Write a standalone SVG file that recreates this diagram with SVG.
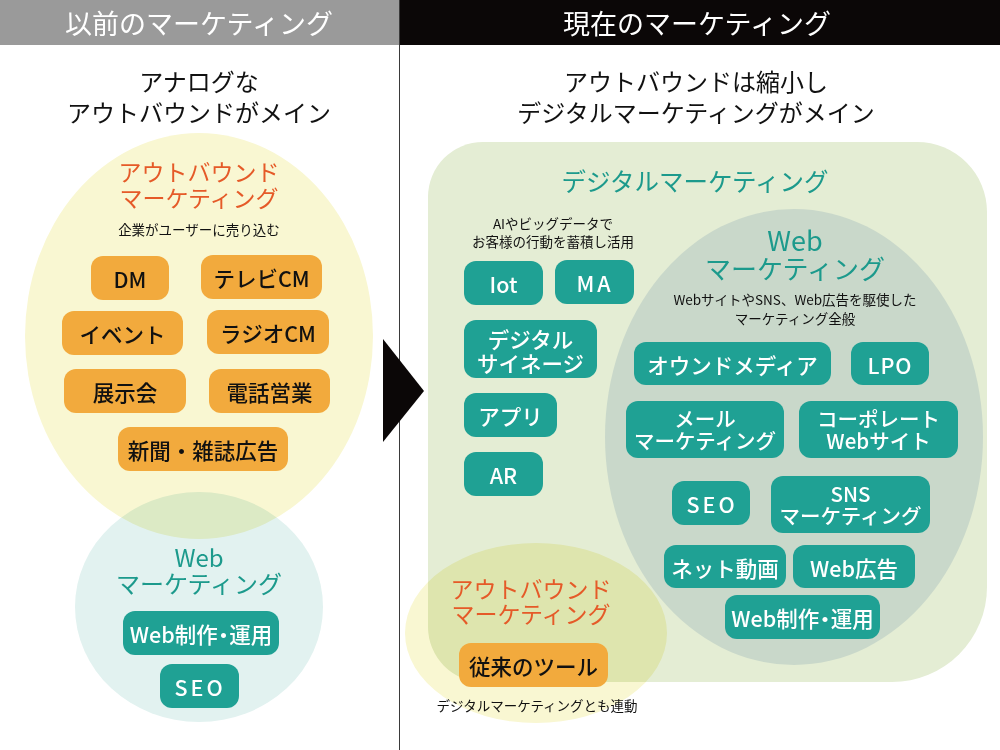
<svg xmlns="http://www.w3.org/2000/svg" width="1000" height="750" viewBox="0 0 1000 750">
<style>
text{font-family:"Noto Sans CJK JP","Noto Sans",sans-serif;text-anchor:middle;dominant-baseline:central}
.hd{font-size:27px;fill:#fff}
.sub{font-size:24px;fill:#111}
.org{font-size:23px;fill:#e55a28}
.teal{fill:#1c9a8c}
.sm{font-size:13.5px;fill:#111}
.ob{fill:#f2aa3d}
.tb{fill:#1fa194}
.ot{font-size:21.5px;fill:#111;font-weight:500}
.wt{font-size:21.5px;fill:#fff;font-weight:500}
.wt2{font-size:20.5px;fill:#fff;font-weight:500}
.mul{mix-blend-mode:multiply}
</style>
<rect width="1000" height="750" fill="#fff"/>
<g id="header-left"><rect x="0" y="0" width="399.5" height="45" fill="#9a9a9a"/><text class="hd" x="199" y="22">以前のマーケティング</text></g>
<g id="header-right"><rect x="399.5" y="0" width="600.5" height="45" fill="#0b0707"/><text class="hd" x="697" y="22">現在のマーケティング</text></g>
<g id="connectors">
<line x1="399.5" y1="0" x2="399.5" y2="750" stroke="#3a3a3a" stroke-width="1"/>
<polygon points="383,339 424,391 383,442" fill="#0b0707"/>
</g>
<g id="left-subtitle"><text class="sub" x="199" y="80">アナログな</text><text class="sub" x="199" y="111">アウトバウンドがメイン</text></g>
<g id="left-web-circle"><ellipse cx="199" cy="607" rx="124" ry="115" fill="#e2f2f0"/></g>
<g id="left-outbound-ellipse"><ellipse class="mul" cx="199" cy="336" rx="174" ry="203" fill="#f9f7d2"/>
<text class="org" x="199" y="171">アウトバウンド</text><text class="org" x="199" y="197">マーケティング</text>
<text class="sm" x="199" y="229">企業がユーザーに売り込む</text></g>
<g id="n-dm"><rect class="ob" x="91" y="256" width="78" height="44" rx="12"/><text class="ot" x="130" y="278">DM</text></g>
<g id="n-tvcm"><rect class="ob" x="201" y="255" width="121" height="44" rx="12"/><text class="ot" x="261.5" y="277">テレビCM</text></g>
<g id="n-event"><rect class="ob" x="62" y="311" width="121" height="44" rx="12"/><text class="ot" x="122.5" y="333">イベント</text></g>
<g id="n-radiocm"><rect class="ob" x="207" y="310" width="122" height="44" rx="12"/><text class="ot" x="268" y="332">ラジオCM</text></g>
<g id="n-expo"><rect class="ob" x="64" y="369" width="122" height="44" rx="12"/><text class="ot" x="125" y="391">展示会</text></g>
<g id="n-tel"><rect class="ob" x="209" y="369" width="121" height="44" rx="12"/><text class="ot" x="269.5" y="391">電話営業</text></g>
<g id="n-news"><rect class="ob" x="118" y="427" width="170" height="44" rx="12"/><text class="ot" x="203" y="449">新聞・雑誌広告</text></g>
<g id="left-web-title"><text class="teal" font-size="24" x="199" y="556">Web</text><text class="teal" font-size="24" x="199" y="582">マーケティング</text></g>
<g id="n-left-webprod"><rect class="tb" x="123" y="611" width="156" height="44" rx="12"/><text class="wt" x="201" y="633">Web制作<tspan dx="-5">・</tspan><tspan dx="-5">運用</tspan></text></g>
<g id="n-left-seo"><rect class="tb" x="160" y="664" width="79" height="44" rx="12"/><text class="wt" x="200" y="686" letter-spacing="3">SEO</text></g>
<g id="right-subtitle"><text class="sub" x="696" y="80">アウトバウンドは縮小し</text><text class="sub" x="696" y="111">デジタルマーケティングがメイン</text></g>
<g id="digital-area">
<path d="M483,142 H917 A70,70 0 0 1 987,212 V587 A95,95 0 0 1 892,682 H483 A55,55 0 0 1 428,627 V197 A55,55 0 0 1 483,142 Z" fill="#e4edd4"/>
<text class="teal" font-size="24.5" x="695" y="180">デジタルマーケティング</text>
<text class="sm" font-size="14.3" x="553" y="223">AIやビッグデータで</text>
<text class="sm" font-size="14.3" x="553" y="241">お客様の行動を蓄積し活用</text>
</g>
<g id="n-iot"><rect class="tb" x="464" y="261" width="79" height="44" rx="12"/><text class="wt" x="503.5" y="283">Iot</text></g>
<g id="n-ma"><rect class="tb" x="555" y="260" width="79" height="44" rx="12"/><text class="wt" x="595" y="282" letter-spacing="3">MA</text></g>
<g id="n-signage"><rect class="tb" x="464" y="320" width="133" height="58" rx="12"/><text class="wt" x="530.5" y="338">デジタル</text><text class="wt" x="530.5" y="362">サイネージ</text></g>
<g id="n-app"><rect class="tb" x="464" y="393" width="93" height="44" rx="12"/><text class="wt" x="510.5" y="415">アプリ</text></g>
<g id="n-ar"><rect class="tb" x="464" y="452" width="79" height="44" rx="12"/><text class="wt" x="503.5" y="474">AR</text></g>
<g id="web-area">
<ellipse cx="794" cy="437" rx="189" ry="228" fill="#c9d8ca"/>
<text class="teal" font-size="27" x="795" y="239">Web</text>
<text class="teal" font-size="26" x="795" y="267">マーケティング</text>
<text class="sm" font-size="14" x="795" y="299">WebサイトやSNS、Web広告を駆使した</text>
<text class="sm" font-size="14" x="795" y="318">マーケティング全般</text>
</g>
<g id="n-owned"><rect class="tb" x="634" y="342" width="197" height="43" rx="12"/><text class="wt" x="732.5" y="364">オウンドメディア</text></g>
<g id="n-lpo"><rect class="tb" x="851" y="342" width="78" height="43" rx="12"/><text class="wt" x="890" y="364" letter-spacing="1">LPO</text></g>
<g id="n-mail"><rect class="tb" x="626" y="401" width="158" height="57" rx="12"/><text class="wt2" x="705" y="418">メール</text><text class="wt2" x="705" y="440">マーケティング</text></g>
<g id="n-corp"><rect class="tb" x="799" y="401" width="159" height="57" rx="12"/><text class="wt2" x="878.5" y="418">コーポレート</text><text class="wt2" x="878.5" y="440">Webサイト</text></g>
<g id="n-seo"><rect class="tb" x="672" y="481" width="78" height="44" rx="12"/><text class="wt" x="712" y="503" letter-spacing="3">SEO</text></g>
<g id="n-sns"><rect class="tb" x="771" y="476" width="159" height="57" rx="12"/><text class="wt2" x="850.5" y="493">SNS</text><text class="wt2" x="850.5" y="515">マーケティング</text></g>
<g id="n-video"><rect class="tb" x="664" y="545" width="122" height="43" rx="12"/><text class="wt" x="725" y="567">ネット動画</text></g>
<g id="n-webad"><rect class="tb" x="793" y="545" width="122" height="43" rx="12"/><text class="wt" x="854" y="567">Web広告</text></g>
<g id="n-webprod"><rect class="tb" x="725" y="595" width="155" height="44" rx="12"/><text class="wt" x="802.5" y="617">Web制作<tspan dx="-5">・</tspan><tspan dx="-5">運用</tspan></text></g>
<g id="right-outbound-ellipse">
<ellipse class="mul" cx="536" cy="633" rx="131" ry="90" fill="#f9f7d2"/>
<text class="org" font-size="23.4" x="531" y="588">アウトバウンド</text>
<text class="org" font-size="23.4" x="531" y="613">マーケティング</text>
</g>
<g id="n-tools"><rect class="ob" x="459" y="643" width="149" height="44" rx="12"/><text class="ot" x="533.5" y="665">従来のツール</text></g>
<g id="right-note"><text class="sm" font-size="13.7" x="537" y="705">デジタルマーケティングとも連動</text></g>
</svg>
